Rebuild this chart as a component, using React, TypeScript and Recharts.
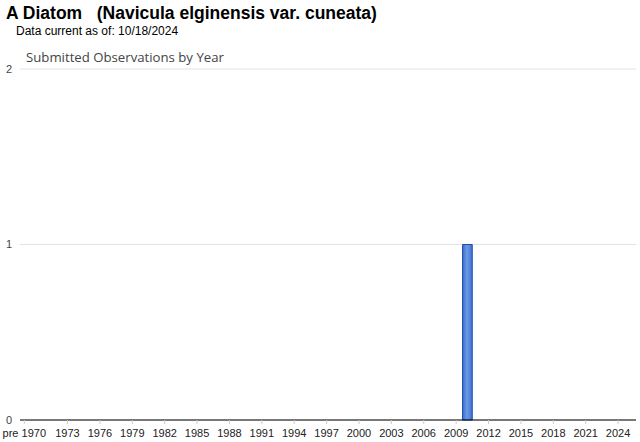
import React from 'react';
import { BarChart, Bar, XAxis, YAxis, CartesianGrid } from 'recharts';

// 1969 stands for the "pre 1970" bucket
const years = [
  1969, 1970, 1971, 1972, 1973, 1974, 1975, 1976, 1977, 1978, 1979, 1980, 1981, 1982,
  1983, 1984, 1985, 1986, 1987, 1988, 1989, 1990, 1991, 1992, 1993, 1994, 1995, 1996,
  1997, 1998, 1999, 2000, 2001, 2002, 2003, 2004, 2005, 2006, 2007, 2008, 2009, 2010,
  2011, 2012, 2013, 2014, 2015, 2016, 2017, 2018, 2019, 2020, 2021, 2022, 2023, 2024,
];
const observations = [
  0, 0, 0, 0, 0, 0, 0, 0, 0, 0, 0, 0, 0, 0,
  0, 0, 0, 0, 0, 0, 0, 0, 0, 0, 0, 0, 0, 0,
  0, 0, 0, 0, 0, 0, 0, 0, 0, 0, 0, 0, 0, 1,
  0, 0, 0, 0, 0, 0, 0, 0, 0, 0, 0, 0, 0, 0,
];
const xTicks = [
  1969, 1973, 1976, 1979, 1982, 1985, 1988, 1991, 1994, 1997, 2000, 2003, 2006, 2009,
  2012, 2015, 2018, 2021, 2024,
];
const yTicks = [0, 1, 2];

const data = years.map((y, i) => ({ year: y, count: observations[i] }));

const fmtYear = (v: number) => (v === 1969 ? 'pre 1970' : String(v));

export default function App() {
  return (
    <div style={{ position: 'absolute', left: 0, top: 0, width: 640, height: 442, background: '#fff' }}>
      <div
        style={{
          position: 'absolute', left: 6, top: 3, whiteSpace: 'pre',
          font: 'bold 17.5px "Liberation Sans", Arial, sans-serif', color: '#000',
        }}
      >
        {'A Diatom   (Navicula elginensis var. cuneata)'}
      </div>
      <div
        style={{
          position: 'absolute', left: 16, top: 24,
          font: '12px "Liberation Sans", Arial, sans-serif', color: '#000',
        }}
      >
        Data current as of: 10/18/2024
      </div>
      <div
        style={{
          position: 'absolute', left: 26, top: 48,
          font: '13.2px "Open Sans", sans-serif', color: '#444',
        }}
      >
        Submitted Observations by Year
      </div>
      <BarChart
        width={640}
        height={442}
        data={data}
        margin={{ top: 69, right: 4, bottom: 0, left: 0 }}
        style={{ position: 'absolute', left: 0, top: 0 }}
      >
        <defs>
          <linearGradient id="barFill" x1="0" y1="0" x2="1" y2="0">
            <stop offset="0%" stopColor="#3a6ccc" />
            <stop offset="45%" stopColor="#6b9be6" />
            <stop offset="100%" stopColor="#3f72d2" />
          </linearGradient>
        </defs>
        <CartesianGrid vertical={false} stroke="#e2e2e2" />
        <XAxis
          dataKey="year"
          type="number"
          domain={[1968.6, 2025.66]}
          allowDataOverflow
          ticks={xTicks}
          interval={0}
          tickFormatter={fmtYear}
          height={22}
          axisLine={{ stroke: '#000' }}
          tickLine={{ stroke: '#ccc' }}
          tickSize={4}
          tickMargin={5}
          tick={{ fontSize: 11, fill: '#222', fontFamily: '"Liberation Sans", Arial, sans-serif' }}
        />
        <YAxis
          domain={[0, 2]}
          ticks={yTicks}
          width={20}
          axisLine={false}
          tickLine={false}
          tick={{ fontSize: 11, fill: '#444', fontFamily: '"Liberation Sans", Arial, sans-serif' }}
        />
        <Bar
          dataKey="count"
          barSize={11}
          fill="url(#barFill)"
          stroke="#1d4fae"
          strokeWidth={1}
          isAnimationActive={false}
        />
      </BarChart>
    </div>
  );
}
